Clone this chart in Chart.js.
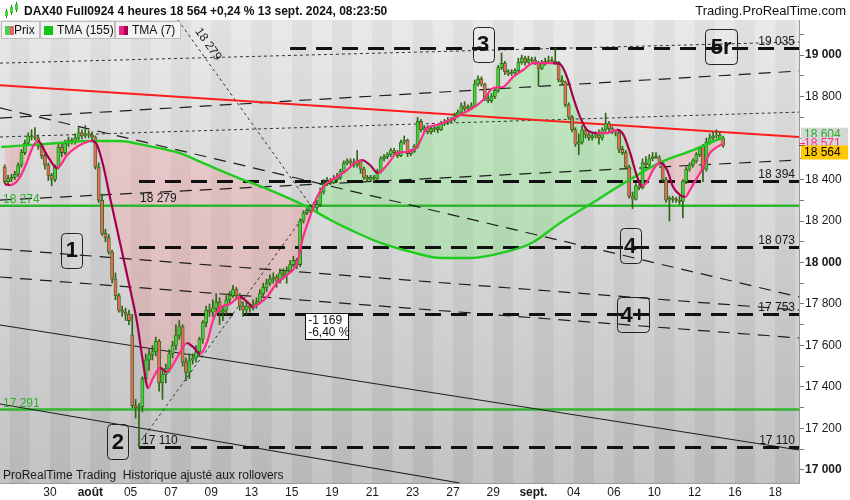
<!DOCTYPE html>
<html>
<head>
<meta charset="utf-8">
<script src="https://cdn.jsdelivr.net/npm/chart.js@4.4.1/dist/chart.umd.min.js"></script>
<style>
  html, body { margin: 0; padding: 0; background: #fff; }
  #wrap { width: 850px; height: 500px; position: relative; }
</style>
</head>
<body>
<div id="wrap"><canvas id="chart" width="850" height="500"></canvas></div>
<script>
// ============================================
// DATA  (4h candles, DAX40 Full0924, 25 juil. 16h -> 13 sept. 08h)
// ============================================

const opens = [
  18460,18390,
  18405,18410,18425,18470,18530,18575,
  18610,18605,18600,18560,18515,18470,
  18420,18400,18460,18555,18530,18575,
  18590,18580,18600,18625,18610,18620,
  18615,18605,18460,18300,18140,18120,
  18050,17920,17840,17770,17760,17750,
  17650,17310,17300,17305,17440,17530,
  17555,17570,17620,17420,17460,17490,
  17560,17600,17650,17690,17520,17470,
  17530,17540,17570,17630,17710,17770,
  17760,17780,17810,17760,17770,17820,
  17840,17870,17840,17790,17770,17790,
  17780,17800,17810,17850,17880,17900,
  17920,17930,17910,17950,17940,17960,
  17990,18010,17990,18200,18240,18250,
  18270,18265,18280,18340,18380,18390,
  18385,18400,18410,18440,18480,18490,
  18480,18470,18490,18450,18410,18400,
  18410,18405,18440,18500,18510,18520,
  18540,18530,18515,18580,18590,18525,
  18535,18560,18680,18640,18650,18630,
  18645,18650,18640,18670,18675,18685,
  18690,18710,18725,18755,18740,18750,
  18755,18860,18885,18860,18790,18780,
  18800,18830,18940,18960,18920,18910,
  18915,18925,18965,18985,18965,18980,
  18975,18960,18935,18960,18970,18975,
  18970,18965,18880,18870,18760,18700,
  18640,18570,18580,18640,18615,18600,
  18610,18615,18600,18640,18670,18645,
  18630,18625,18545,18530,18460,18320,
  18305,18370,18360,18480,18470,18500,
  18510,18505,18480,18400,18300,18310,
  18305,18300,18295,18390,18450,18470,
  18490,18520,18560,18450,18580,18600,
  18610,18615,18600
];
const highs = [
  18470,18420,
  18425,18440,18480,18545,18590,18625,
  18640,18650,18615,18570,18530,18480,
  18430,18470,18570,18575,18590,18605,
  18600,18620,18650,18640,18660,18635,
  18630,18610,18480,18330,18160,18135,
  18060,17950,17850,17790,17780,17770,
  17750,17340,17320,17450,17560,17580,
  17600,17640,17630,17480,17510,17580,
  17620,17700,17720,17700,17540,17560,
  17560,17600,17640,17720,17790,17800,
  17820,17850,17830,17790,17840,17860,
  17890,17880,17850,17810,17810,17800,
  17820,17830,17870,17900,17920,17940,
  17950,17940,17970,17970,17980,18010,
  18030,18020,18210,18250,18260,18280,
  18290,18300,18360,18400,18410,18405,
  18420,18430,18450,18490,18500,18500,
  18500,18540,18495,18460,18420,18420,
  18420,18450,18510,18520,18530,18550,
  18550,18540,18590,18610,18595,18545,
  18570,18700,18690,18660,18660,18655,
  18660,18655,18680,18690,18700,18700,
  18720,18735,18770,18775,18760,18770,
  18880,18900,18895,18865,18810,18815,
  18840,18950,19010,18970,18930,18930,
  18935,18985,19000,18995,18995,18990,
  18990,18970,18975,18985,18995,18990,
  19035,18970,18900,18875,18770,18710,
  18650,18620,18660,18650,18625,18620,
  18630,18640,18650,18720,18680,18655,
  18640,18640,18560,18540,18470,18340,
  18380,18380,18500,18510,18520,18530,
  18530,18515,18485,18410,18320,18320,
  18315,18320,18400,18460,18480,18500,
  18530,18560,18570,18600,18620,18630,
  18640,18630,18610
];
const lows = [
  18380,18375,
  18390,18400,18415,18460,18520,18565,
  18590,18590,18545,18500,18450,18395,
  18370,18390,18450,18510,18520,18560,
  18570,18570,18590,18595,18600,18600,
  18590,18450,18290,18130,18100,18040,
  17900,17820,17760,17740,17720,17700,
  17300,17250,17110,17280,17420,17480,
  17530,17550,17380,17340,17420,17470,
  17540,17580,17630,17500,17430,17440,
  17510,17520,17550,17610,17690,17740,
  17740,17760,17700,17720,17750,17800,
  17830,17820,17770,17740,17750,17760,
  17770,17780,17800,17840,17860,17890,
  17900,17880,17900,17920,17900,17950,
  17980,17970,17980,18190,18230,18240,
  18250,18240,18270,18330,18370,18375,
  18380,18390,18400,18430,18470,18470,
  18460,18460,18430,18400,18390,18395,
  18390,18400,18430,18490,18500,18510,
  18520,18505,18510,18570,18510,18515,
  18530,18550,18630,18630,18620,18620,
  18630,18625,18635,18660,18665,18675,
  18680,18700,18715,18730,18730,18740,
  18750,18850,18850,18780,18770,18770,
  18790,18820,18930,18905,18900,18900,
  18905,18920,18955,18950,18960,18965,
  18955,18850,18930,18950,18960,18960,
  18955,18870,18860,18750,18690,18630,
  18560,18520,18570,18600,18590,18590,
  18600,18570,18590,18630,18630,18620,
  18610,18530,18520,18450,18310,18260,
  18300,18350,18355,18460,18460,18490,
  18500,18470,18390,18290,18200,18290,
  18290,18280,18215,18380,18440,18460,
  18480,18510,18390,18440,18570,18590,
  18600,18590,18555
];
const closes = [
  18390,18405,
  18410,18425,18470,18530,18575,18610,
  18605,18600,18560,18515,18470,18420,
  18400,18460,18555,18530,18575,18590,
  18580,18600,18625,18610,18620,18615,
  18605,18460,18300,18140,18120,18050,
  17920,17840,17770,17760,17750,17720,
  17310,17300,17305,17440,17530,17555,
  17570,17620,17420,17460,17490,17560,
  17600,17650,17690,17520,17470,17530,
  17540,17570,17630,17710,17770,17760,
  17780,17810,17760,17770,17820,17840,
  17870,17840,17790,17770,17790,17780,
  17800,17810,17850,17880,17900,17920,
  17930,17910,17950,17940,17960,17990,
  18010,17990,18200,18240,18250,18270,
  18265,18280,18340,18380,18390,18385,
  18400,18410,18440,18480,18490,18480,
  18470,18490,18450,18410,18400,18410,
  18405,18440,18500,18510,18520,18540,
  18530,18515,18580,18590,18525,18535,
  18560,18680,18640,18650,18630,18645,
  18650,18640,18670,18675,18685,18690,
  18710,18725,18755,18740,18750,18755,
  18860,18885,18860,18790,18780,18800,
  18830,18940,18960,18920,18910,18915,
  18925,18965,18985,18965,18980,18975,
  18960,18935,18960,18970,18975,18970,
  18965,18880,18870,18760,18700,18640,
  18570,18580,18640,18615,18600,18610,
  18615,18600,18640,18670,18645,18630,
  18625,18545,18530,18460,18320,18305,
  18370,18360,18480,18470,18500,18510,
  18505,18480,18400,18300,18310,18305,
  18300,18295,18390,18450,18470,18490,
  18520,18550,18450,18580,18600,18610,
  18615,18600,18564
];

// TMA (155), position = candle number
const tma155At = [-1, 7, 16, 25, 34, 43, 52, 59, 69, 79, 89, 97, 103, 112, 121, 130, 139, 148, 157, 165, 175, 185, 195, 205, 214];
const tma155   = [18557,18566,18576,18586,18586,18561,18528,18480,18412,18349,18277,18205,18157,18094,18051,18022,18022,18046,18094,18186,18287,18388,18480,18542,18604];

// TMA (7)
const tma7At = [0,1.6,4.6,6.6,8.4,9.9,12.6,15.6,18.6,21.5,24.5,26,27.5,29.3,31.4,34.3,37.3,39.4,41.2,42.7,44.2,46.3,48.3,51.3,54.3,56.1,58.2,60.3,62.1,64.1,67.1,70.1,72.2,74,76,78.1,81.1,84.1,87.1,88.9,90.9,93,96,99,102,104.3,106.4,108.8,111.2,113.9,116.9,119.8,122.8,125.8,128.8,132.6,135.6,139.5,142.5,145.5,148.4,151.4,154.4,157.4,160.4,163.3,165.4,167.5,169.3,171.4,173.5,176.4,179.4,182.4,184.2,186.3,188.4,189.8,191.3,193.1,195.2,197.3,199.1,201.2,202.7,204.1,206.2,208,210.1,212.2,213.7];
const tma7   = [18378,18373,18412,18484,18557,18586,18518,18455,18518,18557,18581,18586,18566,18470,18311,18099,17877,17713,17520,17395,17443,17492,17472,17540,17612,17593,17559,17617,17723,17781,17800,17834,17810,17786,17805,17834,17901,17940,17998,18123,18219,18316,18383,18412,18446,18480,18494,18470,18431,18470,18528,18533,18557,18648,18663,18687,18711,18745,18783,18841,18846,18894,18928,18961,18961,18961,18957,18894,18798,18701,18639,18624,18624,18639,18619,18528,18412,18369,18388,18446,18480,18446,18364,18325,18316,18349,18407,18455,18528,18557,18571];

// x axis: trading days from 25 juil. (day -3) ; labels every second day
const tickDays   = [0, 2, 4, 6, 8, 10, 12, 14, 16, 18, 20, 22, 24, 26, 28, 30, 32, 34, 36];
const tickLabels = ['30','août','05','07','09','13','15','19','21','23','27','29','sept.','04','06','10','12','16','18'];
const boldLabels = ['août', 'sept.'];

// drawn levels
const blackLevels    = [19035, 18394, 18073, 17753, 17110];
const blackLevelFrom = [85, 40, 40, 40, 40];
const greenLevels    = [18274, 17291];
const lowLabel = 17110;
const midLabel = 18279;

// trend lines: [candle, price] -> [candle, price]
const trendLines = [
  { a: [-1.4, 18301], b: [236.6, 18494], kind: 'long' },
  { a: [-1.4, 18696], b: [236.6, 18923], kind: 'long' },
  { a: [-1.4, 18745], b: [236.6, 17834], kind: 'long' },
  { a: [-1.4, 18065], b: [236.6, 17771], kind: 'long' },
  { a: [-1.4, 17930], b: [236.6, 17636], kind: 'long' },
  { a: [-1.4, 18961], b: [236.6, 19063], kind: 'dot' },
  { a: [-1.4, 18605], b: [236.6, 18725], kind: 'dot' },
  { a: [51.6, 19169], b: [91.5, 18267], kind: 'dot' },
  { a: [39.7, 17120], b: [91.5, 18277], kind: 'dot' },
  { a: [-1.4, 17699], b: [236.6, 17096], kind: 'solid' },
  { a: [-1.4, 17318], b: [135.6, 16937], kind: 'solid' },
  { a: [-1.4, 18855], b: [236.6, 18605], kind: 'red' }
];

// wave counts
const waveText  = ['1', '2', '3', '4', '4+', '5r'];
const waveAt    = [20, 33.7, 142.5, 186.3, 187.2, 213.4];
const wavePrice = [18060, 17135, 19053, 18080, 17747, 19039];

// ============================================
// HELPERS
// ============================================

const FONT = 'Arial, "Liberation Sans", sans-serif';
const dayStart = d => 6 * d + 13.5;
const fmt = v => String(Math.round(v)).replace(/\B(?=(\d{3})+(?!\d))/g, ' ');
const isUp = i => closes[i] >= opens[i];

const WICK = '#2c6614';
const UP = '#3fd23a';
const DOWN = '#e46a5c';

function roundRect(ctx, x, y, w, h, r) {
    ctx.beginPath();
    ctx.moveTo(x + r, y);
    ctx.lineTo(x + w - r, y);
    ctx.quadraticCurveTo(x + w, y, x + w, y + r);
    ctx.lineTo(x + w, y + h - r);
    ctx.quadraticCurveTo(x + w, y + h, x + w - r, y + h);
    ctx.lineTo(x + r, y + h);
    ctx.quadraticCurveTo(x, y + h, x, y + h - r);
    ctx.lineTo(x, y + r);
    ctx.quadraticCurveTo(x, y, x + r, y);
    ctx.closePath();
}

// ============================================
// PLUGINS
// ============================================

const bandsPlugin = {
    id: 'bands',
    beforeDraw(chart) {
        const { ctx, chartArea: a, scales: { x } } = chart;
        ctx.save();
        const light = ctx.createLinearGradient(0, a.top, 0, a.bottom);
        light.addColorStop(0, '#e9e9e9');
        light.addColorStop(1, '#c3c3c3');
        const dark = ctx.createLinearGradient(0, a.top, 0, a.bottom);
        dark.addColorStop(0, '#e0e0e0');
        dark.addColorStop(1, '#b8b8b8');
        ctx.fillStyle = light;
        ctx.fillRect(a.left, a.top, a.width, a.height);
        ctx.beginPath();
        ctx.rect(a.left, a.top, a.width, a.height);
        ctx.clip();
        ctx.fillStyle = dark;
        for (let d = -4; d <= 38; d += 2) {
            const x0 = x.getPixelForValue(dayStart(d));
            const x1 = x.getPixelForValue(dayStart(d + 1));
            ctx.fillRect(x0, a.top, x1 - x0, a.height);
        }
        ctx.restore();
    }
};

const linesPlugin = {
    id: 'lines',
    beforeDatasetsDraw(chart) {
        const { ctx, chartArea: a, scales: { x, y } } = chart;
        ctx.save();
        ctx.beginPath();
        ctx.rect(a.left, a.top, a.width, a.height);
        ctx.clip();

        // green horizontal levels
        ctx.strokeStyle = '#2fb52f';
        ctx.lineWidth = 2.5;
        greenLevels.forEach(v => {
            const py = y.getPixelForValue(v);
            ctx.beginPath(); ctx.moveTo(a.left, py); ctx.lineTo(a.right, py); ctx.stroke();
        });

        // trend lines
        const styles = {
            long:  { c: '#1e1e1e', w: 1.2, d: [12, 8] },
            dot:   { c: '#333333', w: 1, d: [3, 3] },
            solid: { c: '#1e1e1e', w: 1.1, d: [] },
            red:   { c: '#ff1c1c', w: 2, d: [] }
        };
        trendLines.forEach(t => {
            const s = styles[t.kind];
            ctx.strokeStyle = s.c;
            ctx.lineWidth = s.w;
            ctx.setLineDash(s.d);
            ctx.beginPath();
            ctx.moveTo(x.getPixelForValue(t.a[0]), y.getPixelForValue(t.a[1]));
            ctx.lineTo(x.getPixelForValue(t.b[0]), y.getPixelForValue(t.b[1]));
            ctx.stroke();
        });

        // thick dashed levels
        ctx.strokeStyle = '#111';
        ctx.lineWidth = 3;
        ctx.setLineDash([16, 10]);
        blackLevels.forEach((v, i) => {
            const py = Math.round(y.getPixelForValue(v)) + 0.5;
            ctx.beginPath();
            ctx.moveTo(x.getPixelForValue(blackLevelFrom[i]), py);
            ctx.lineTo(a.right, py);
            ctx.stroke();
        });
        ctx.restore();
    }
};

const overlayPlugin = {
    id: 'overlay',
    afterDraw(chart) {
        const { ctx, chartArea: a, scales: { x, y } } = chart;
        ctx.save();

        // ---- texts on the plot ----
        ctx.font = '12px ' + FONT;
        ctx.textBaseline = 'alphabetic';
        ctx.fillStyle = '#1a1a1a';
        ctx.textAlign = 'right';
        blackLevels.forEach(v => ctx.fillText(fmt(v), a.right - 4, y.getPixelForValue(v) - 3));
        ctx.textAlign = 'left';
        ctx.fillText(fmt(lowLabel), x.getPixelForValue(40) + 3, y.getPixelForValue(lowLabel) - 3);
        ctx.fillText(fmt(midLabel), x.getPixelForValue(40.3), y.getPixelForValue(midLabel) - 3);
        ctx.fillStyle = '#2fae2f';
        greenLevels.forEach(v => ctx.fillText(fmt(v), a.left + 3, y.getPixelForValue(v) - 3));

        // rotated label along the steep dotted line
        const st = trendLines[7];
        const p0x = x.getPixelForValue(st.a[0]), p0y = y.getPixelForValue(st.a[1]);
        const p1x = x.getPixelForValue(st.b[0]), p1y = y.getPixelForValue(st.b[1]);
        const ang = Math.atan2(p1y - p0y, p1x - p0x);
        ctx.save();
        ctx.translate(p0x + (p1x - p0x) * 0.07 + 5, p0y + (p1y - p0y) * 0.07);
        ctx.rotate(ang);
        ctx.fillStyle = '#1a1a1a';
        ctx.fillText(fmt(midLabel), 0, -3);
        ctx.restore();

        // measure box
        const bx = x.getPixelForValue(89.5), by = y.getPixelForValue(17757);
        ctx.fillStyle = '#fff';
        ctx.fillRect(bx, by, 43, 26);
        ctx.strokeStyle = '#111';
        ctx.lineWidth = 1;
        ctx.strokeRect(Math.round(bx) + 0.5, Math.round(by) + 0.5, 43, 26);
        ctx.fillStyle = '#111';
        ctx.fillText('-1 169', bx + 3, by + 11);
        ctx.fillText('-6,40 %', bx + 3, by + 23);

        // wave count boxes
        ctx.font = 'bold 22px ' + FONT;
        ctx.textAlign = 'center';
        ctx.textBaseline = 'middle';
        waveText.forEach((t, i) => {
            const cx = x.getPixelForValue(waveAt[i]), cy = y.getPixelForValue(wavePrice[i]);
            const w = t.length > 1 ? 32 : 21, h = 35;
            roundRect(ctx, Math.round(cx - w / 2) + 0.5, Math.round(cy - h / 2) + 0.5, w, h, 4);
            ctx.strokeStyle = '#222';
            ctx.lineWidth = 1;
            ctx.stroke();
            ctx.fillStyle = '#111';
            ctx.fillText(t, cx, cy + 1);
        });

        // ---- right axis badges ----
        ctx.font = '12px ' + FONT;
        ctx.textAlign = 'left';
        ctx.textBaseline = 'middle';
        const last155 = tma155[tma155.length - 1];
        const last7 = tma7[tma7.length - 1];
        const lastC = closes[closes.length - 1];
        const b1 = y.getPixelForValue(last155) - 3.5;
        ctx.fillStyle = '#d6d6d6';
        ctx.fillRect(a.right + 2, b1 - 6, 47, 12);
        ctx.fillStyle = '#22b022';
        ctx.fillText(fmt(last155), a.right + 5, b1 + 0.5);
        const b2 = y.getPixelForValue(last7) - 1;
        ctx.fillStyle = '#d6d6d6';
        ctx.fillRect(a.right + 2, b2 - 6, 47, 12);
        ctx.fillStyle = '#ff2a8a';
        ctx.fillText(fmt(last7), a.right + 5, b2 + 0.5);
        ctx.fillRect(a.right, y.getPixelForValue(last7) - 1, 6, 1);
        ctx.fillStyle = '#a5004e';
        ctx.fillRect(a.right, y.getPixelForValue(last7) + 1, 6, 1);
        const b3 = y.getPixelForValue(lastC) + 7;
        ctx.fillStyle = '#ffc800';
        ctx.fillRect(a.right + 2, b3 - 7, 47, 14);
        ctx.fillStyle = '#000';
        ctx.fillText(fmt(lastC), a.right + 5, b3 + 0.5);

        // ---- header ----
        ctx.fillStyle = '#fff';
        ctx.fillRect(0, 0, chart.width, a.top);
        // candle icon
        ctx.fillStyle = WICK;
        ctx.fillRect(6, 9, 1, 9); ctx.fillRect(11, 5, 1, 10); ctx.fillRect(16, 2, 1, 10);
        ctx.fillStyle = UP;
        ctx.fillRect(5, 11, 3, 5); ctx.fillRect(10, 7, 3, 6); ctx.fillRect(15, 4, 3, 6);
        ctx.textBaseline = 'alphabetic';
        ctx.fillStyle = '#111';
        ctx.font = 'bold 12px ' + FONT;
        ctx.fillText('DAX40 Full0924 4 heures 18 564 +0,24 % 13 sept. 2024, 08:23:50', 24, 15);
        ctx.font = '13px ' + FONT;
        ctx.textAlign = 'right';
        ctx.fillText('Trading.ProRealTime.com', 846, 15);

        // legend tabs
        ctx.textAlign = 'left';
        ctx.font = '12px ' + FONT;
        const tabs = [
            { x: 1, w: 38, label: 'Prix', c1: '#55cc55', c2: '#e06666' },
            { x: 40, w: 74, label: 'TMA (155)', c1: '#11c411', c2: '#11c411' },
            { x: 115, w: 65, label: 'TMA (7)', c1: '#ee1f86', c2: '#a8004f' }
        ];
        tabs.forEach(t => {
            ctx.fillStyle = '#f2f2f2';
            ctx.fillRect(t.x, a.top + 1, t.w, 17);
            ctx.strokeStyle = '#bdbdbd';
            ctx.lineWidth = 1;
            ctx.strokeRect(t.x + 0.5, a.top + 1.5, t.w, 17);
            ctx.fillStyle = t.c1;
            ctx.fillRect(t.x + 4, a.top + 6, 5, 9);
            ctx.fillStyle = t.c2;
            ctx.fillRect(t.x + 9, a.top + 6, 4, 9);
            ctx.fillStyle = '#111';
            ctx.fillText(t.label, t.x + (t.label === 'Prix' ? 13 : 17), a.top + 14);
        });

        // footer caption
        ctx.fillStyle = '#1a1a1a';
        ctx.fillText('ProRealTime Trading  Historique ajusté aux rollovers', 3, a.bottom - 4);

        ctx.restore();
    }
};

// ============================================
// CHART
// ============================================

const n = closes.length;
const idx = Array.from({ length: n }, (_, i) => i);

new Chart(document.getElementById('chart'), {
    type: 'bar',
    data: {
        datasets: [
            {
                type: 'bar',
                label: 'wicks',
                data: idx.map(i => ({ x: i, y: [lows[i], highs[i]] })),
                backgroundColor: WICK,
                borderWidth: 0,
                barThickness: 1,
                grouped: false,
                order: 4
            },
            {
                type: 'bar',
                label: 'Prix',
                data: idx.map(i => ({ x: i, y: [opens[i], closes[i]] })),
                backgroundColor: c => isUp(c.dataIndex) ? UP : DOWN,
                borderColor: WICK,
                borderWidth: 0.8,
                borderSkipped: false,
                barThickness: 3.2,
                minBarLength: 1,
                grouped: false,
                order: 3
            },
            {
                type: 'line',
                label: 'TMA (155)',
                data: tma155At.map((p, i) => ({ x: p, y: tma155[i] })),
                borderColor: '#1ecb1e',
                borderWidth: 2.4,
                pointRadius: 0,
                cubicInterpolationMode: 'monotone',
                fill: false,
                order: 1
            },
            {
                type: 'line',
                label: 'TMA (7)',
                data: tma7At.map((p, i) => ({ x: p, y: tma7[i] })),
                borderColor: '#ff2a8a',
                borderWidth: 2.2,
                pointRadius: 0,
                cubicInterpolationMode: 'monotone',
                segment: {
                    borderColor: c => c.p1.parsed.y < c.p0.parsed.y ? '#a5004e' : '#ff2a8a'
                },
                fill: {
                    target: 2,
                    above: 'rgba(110, 240, 110, 0.30)',
                    below: 'rgba(255, 130, 130, 0.26)'
                },
                order: 0
            }
        ]
    },
    options: {
        responsive: false,
        animation: false,
        layout: { padding: { top: 20, left: 0, right: 0, bottom: 0 } },
        plugins: {
            legend: { display: false },
            tooltip: { enabled: false },
            filler: { drawTime: 'beforeDatasetsDraw' }
        },
        scales: {
            x: {
                type: 'linear',
                min: -1.4,
                max: 236.6,
                offset: false,
                grid: { display: false, drawTicks: false, tickLength: 0 },
                border: { display: true, color: '#9a9a9a' },
                afterFit: s => { s.height = 17; },
                afterBuildTicks: s => { s.ticks = tickDays.map(d => ({ value: dayStart(d) })); },
                ticks: {
                    autoSkip: false,
                    maxRotation: 0,
                    padding: 2,
                    color: '#1a1a1a',
                    font: c => ({
                        family: FONT,
                        size: 12,
                        weight: boldLabels.includes(tickLabels[c.index]) ? 'bold' : 'normal'
                    }),
                    callback: (v, i) => tickLabels[i]
                }
            },
            y: {
                position: 'right',
                min: 16937,
                max: 19169,
                grid: { drawOnChartArea: false, drawTicks: true, tickLength: 5, color: '#777' },
                border: { display: true, color: '#9a9a9a' },
                afterFit: s => { s.width = 51; },
                ticks: {
                    stepSize: 100,
                    includeBounds: false,
                    padding: 1,
                    color: '#1a1a1a',
                    font: c => ({
                        family: FONT,
                        size: 12,
                        weight: c.tick && c.tick.value % 1000 === 0 ? 'bold' : 'normal'
                    }),
                    callback: v => (v % 200 === 0 ? fmt(v) : '')
                }
            }
        }
    },
    plugins: [bandsPlugin, linesPlugin, overlayPlugin]
});
</script>
</body>
</html>
